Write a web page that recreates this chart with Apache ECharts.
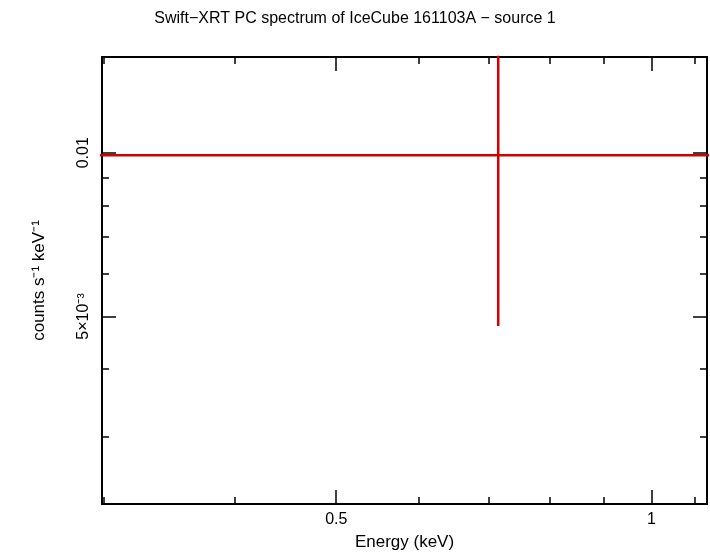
<!DOCTYPE html>
<html><head><meta charset="utf-8">
<script src="https://cdn.jsdelivr.net/npm/echarts@6/dist/echarts.min.js"></script>
<style>html,body{margin:0;padding:0;background:#fff}#c{width:710px;height:556px}</style>
</head><body><div id="c"></div>
<script>
const energy=[0.714], energyLo=[0.28], energyHi=[1.2];
const rate=[0.0099], rateLo=[0.0048], rateHi=[0.02];
const xMajor=[0.5,1], xMinor=[0.3,0.4,0.6,0.7,0.8,0.9,1.1];
const yMajor=[0.005,0.01], yMinor=[0.003,0.004,0.006,0.007,0.008,0.009];
const xRange=[0.2987,1.13], yRange=[0.00226,0.015];
const L=Math.log10;
const F='Liberation Sans, Arial, sans-serif';
function xAx(pos,vals,len,labels){return {type:'value',position:pos,min:L(xRange[0]),max:L(xRange[1]),
 axisLine:{show:true,onZero:false,lineStyle:{color:'#000',width:2}},splitLine:{show:false},
 axisTick:{show:true,inside:true,length:len,lineStyle:{color:'#000',width:1.5},customValues:vals.map(L)},
 axisLabel:{show:labels,customValues:xMajor.map(L),formatter:v=>String(+Math.pow(10,v).toPrecision(3)),color:'#000',fontSize:16,fontFamily:F,margin:8}};}
function yAx(pos,vals,len,labels){return {type:'value',position:pos,min:L(yRange[0]),max:L(yRange[1]),
 axisLine:{show:true,onZero:false,lineStyle:{color:'#000',width:2}},splitLine:{show:false},
 axisTick:{show:true,inside:true,length:len,lineStyle:{color:'#000',width:1.5},customValues:vals.map(L)},
 axisLabel:{show:labels,customValues:yMajor.map(L),rotate:90,color:'#000',fontSize:16,fontFamily:F,margin:10,
  formatter:v=>{const r=Math.pow(10,v);return r>0.009?'0.01':'5×10\u207b\u00b3';}}};}
const xAxes=[xAx('bottom',xMinor,7,true),xAx('bottom',xMajor,14,false),xAx('top',xMinor,7,false),xAx('top',xMajor,14,false)];
xAxes[0].name='Energy (keV)';xAxes[0].nameLocation='middle';xAxes[0].nameGap=30;
xAxes[0].nameTextStyle={color:'#000',fontSize:17,fontFamily:F};
const yAxes=[yAx('left',yMinor,7,true),yAx('left',yMajor,14,false),yAx('right',yMinor,7,false),yAx('right',yMajor,14,false)];
yAxes[0].name='counts s\u207b\u00b9 keV\u207b\u00b9';yAxes[0].nameLocation='middle';yAxes[0].nameGap=54;
yAxes[0].nameTextStyle={color:'#000',fontSize:17,fontFamily:F};
const series=[];
energy.forEach((e,i)=>{
 series.push({type:'line',data:[[L(energyLo[i]),L(rate[i])],[L(energyHi[i]),L(rate[i])]],symbol:'none',clip:true,lineStyle:{color:'#d40000',width:2.5},silent:true});
 series.push({type:'line',data:[[L(e),L(rateLo[i])],[L(e),L(rateHi[i])]],symbol:'none',clip:true,lineStyle:{color:'#d40000',width:2.5},silent:true});
});
const chart=echarts.init(document.getElementById('c'),null,{renderer:'canvas'});
chart.setOption({animation:false,
 title:{text:'Swift\u2212XRT PC spectrum of IceCube 161103A \u2212 source 1',left:'center',top:6,textStyle:{color:'#000',fontSize:16,fontWeight:'normal',fontFamily:F}},
 grid:{left:102,right:3,top:57,bottom:51,containLabel:false},
 xAxis:xAxes,yAxis:yAxes,series});
</script></body></html>
